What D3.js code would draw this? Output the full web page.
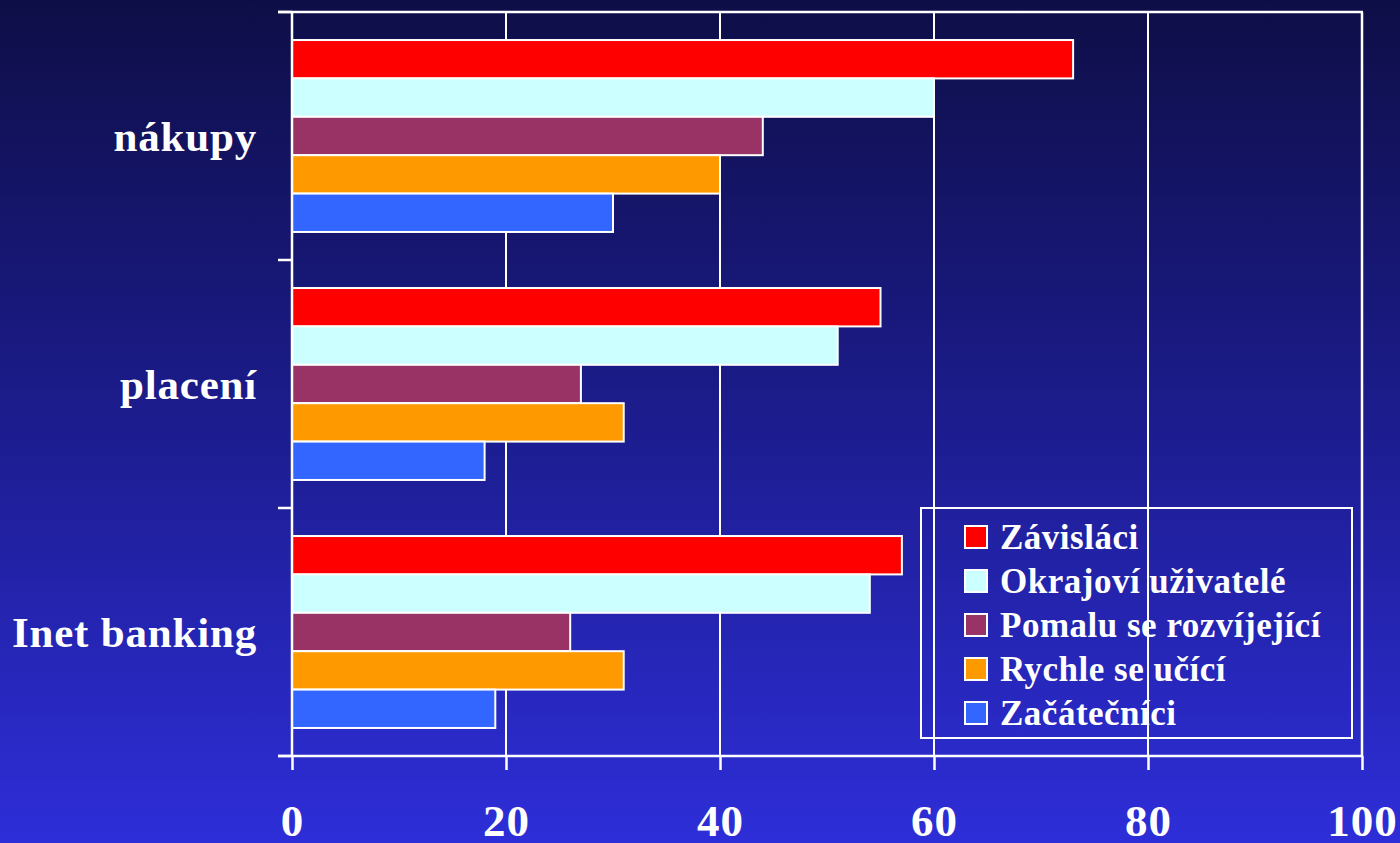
<!DOCTYPE html>
<html>
<head>
<meta charset="utf-8">
<script src="https://cdn.jsdelivr.net/npm/d3@7"></script>
<style>
  html, body { margin: 0; padding: 0; }
  body { width: 1400px; height: 843px; overflow: hidden; }
  svg { display: block; }
</style>
</head>
<body>
<svg id="chart" width="1400" height="843"></svg>
<script>
// kategorie odshora dolů
var categories = ["nákupy", "placení", "Inet banking"];
var series = ["Závisláci", "Okrajoví uživatelé", "Pomalu se rozvíjející", "Rychle se učící", "Začátečníci"];
var colors = ["#ff0000", "#ccffff", "#993366", "#ff9900", "#3366ff"];
// hodnoty po kategoriích, pořadí jako series
var zavislaci = [73, 55, 57];
var okrajovi = [60, 51, 54];
var pomalu = [44, 27, 26];
var rychle = [40, 31, 31];
var zacatecnici = [30, 18, 19];
var xTicks = [0, 20, 40, 60, 80, 100];

var values = [zavislaci, okrajovi, pomalu, rychle, zacatecnici];

(function(){
var svg = d3.select("#chart");
var W = 1400, H = 843;
var mLeft = 292, mRight = 1362, mTop = 12, mBottom = 756;
var font = "'Liberation Serif', 'Times New Roman', serif";

// pozadí s přechodem
var defs = svg.append("defs");
var grad = defs.append("linearGradient").attr("id", "bg")
  .attr("x1", 0).attr("y1", 0).attr("x2", 0).attr("y2", 1);
grad.append("stop").attr("offset", "0%").attr("stop-color", "#0e0e47");
grad.append("stop").attr("offset", "50%").attr("stop-color", "#1c1c8e");
grad.append("stop").attr("offset", "100%").attr("stop-color", "#2e2ed9");
svg.append("rect").attr("width", W).attr("height", H).attr("fill", "url(#bg)");

var x = d3.scaleLinear().domain([0, 100]).range([mLeft, mRight]);
var y = d3.scaleBand().domain(categories).range([mTop, mBottom]).padding(0);
var yInner = d3.scaleBand().domain(series).range([0, y.bandwidth()]).paddingOuter(0.73).paddingInner(0);

// mřížka
svg.append("g").selectAll("line")
  .data(xTicks.filter(function(d){ return d > 0; }))
  .enter().append("line")
  .attr("x1", function(d){ return x(d); })
  .attr("x2", function(d){ return x(d); })
  .attr("y1", mTop).attr("y2", mBottom)
  .attr("stroke", "#ffffff").attr("stroke-width", 2);

// horní okraj
svg.append("line").attr("x1", 278).attr("x2", mRight + 1)
  .attr("y1", mTop).attr("y2", mTop)
  .attr("stroke", "#ffffff").attr("stroke-width", 2.5);

// sloupce
var g = svg.append("g");
categories.forEach(function(cat, ci){
  series.forEach(function(s, si){
    g.append("rect")
      .attr("x", x(0))
      .attr("y", y(cat) + yInner(s))
      .attr("width", x(values[si][ci]) - x(0))
      .attr("height", yInner.bandwidth())
      .attr("fill", colors[si])
      .attr("stroke", "#ffffff")
      .attr("stroke-width", 2);
  });
});

// osa x
var xAxis = d3.axisBottom(x).tickValues(xTicks).tickSize(14).tickPadding(34)
  .tickFormat(d3.format("d"));
var gx = svg.append("g").attr("transform", "translate(0," + mBottom + ")").call(xAxis);
gx.select(".domain").remove();
gx.selectAll(".tick line").attr("stroke", "#ffffff").attr("stroke-width", 2.5);
gx.selectAll(".tick text").attr("fill", "#ffffff")
  .style("font-family", font).style("font-weight", "bold").style("font-size", "45px")
  .style("letter-spacing", "1px");
gx.append("line").attr("x1", 278).attr("x2", mRight + 1).attr("y1", 0).attr("y2", 0)
  .attr("stroke", "#ffffff").attr("stroke-width", 2.5);

// osa y
var yAxis = d3.axisLeft(y).tickSize(0).tickPadding(35);
var gy = svg.append("g").attr("transform", "translate(" + mLeft + ",0)").call(yAxis);
gy.select(".domain").remove();
gy.selectAll(".tick text").attr("fill", "#ffffff").attr("dy", "0.36em")
  .style("font-family", font).style("font-weight", "bold").style("font-size", "43px")
  .style("letter-spacing", "0.8px");
gy.append("line").attr("x1", 0).attr("x2", 0).attr("y1", mTop).attr("y2", mBottom)
  .attr("stroke", "#ffffff").attr("stroke-width", 2.5);
// značky mezi kategoriemi
var bounds = categories.map(function(c){ return y(c); }).concat([mBottom]);
gy.selectAll(".bound").data(bounds).enter().append("line")
  .attr("x1", -14).attr("x2", 0)
  .attr("y1", function(d){ return d; }).attr("y2", function(d){ return d; })
  .attr("stroke", "#ffffff").attr("stroke-width", 2.5);

// pravý okraj
svg.append("line").attr("x1", mRight).attr("x2", mRight)
  .attr("y1", mTop).attr("y2", mBottom)
  .attr("stroke", "#ffffff").attr("stroke-width", 2.5);

// legenda
var lg = svg.append("g").attr("transform", "translate(921,508)");
lg.append("rect").attr("width", 431).attr("height", 230)
  .attr("fill", "none").attr("stroke", "#ffffff").attr("stroke-width", 2);
var items = lg.selectAll(".item").data(series).enter().append("g")
  .attr("transform", function(d, i){ return "translate(44," + (29 + i * 44) + ")"; });
items.append("rect").attr("x", 0).attr("y", -11).attr("width", 22).attr("height", 22)
  .attr("fill", function(d, i){ return colors[i]; })
  .attr("stroke", "#ffffff").attr("stroke-width", 2);
items.append("text").attr("x", 35).attr("y", 12)
  .attr("fill", "#ffffff")
  .style("font-family", font).style("font-weight", "bold").style("font-size", "35px")
  .style("letter-spacing", "0.5px")
  .text(function(d){ return d; });
})();
</script>
</body>
</html>
